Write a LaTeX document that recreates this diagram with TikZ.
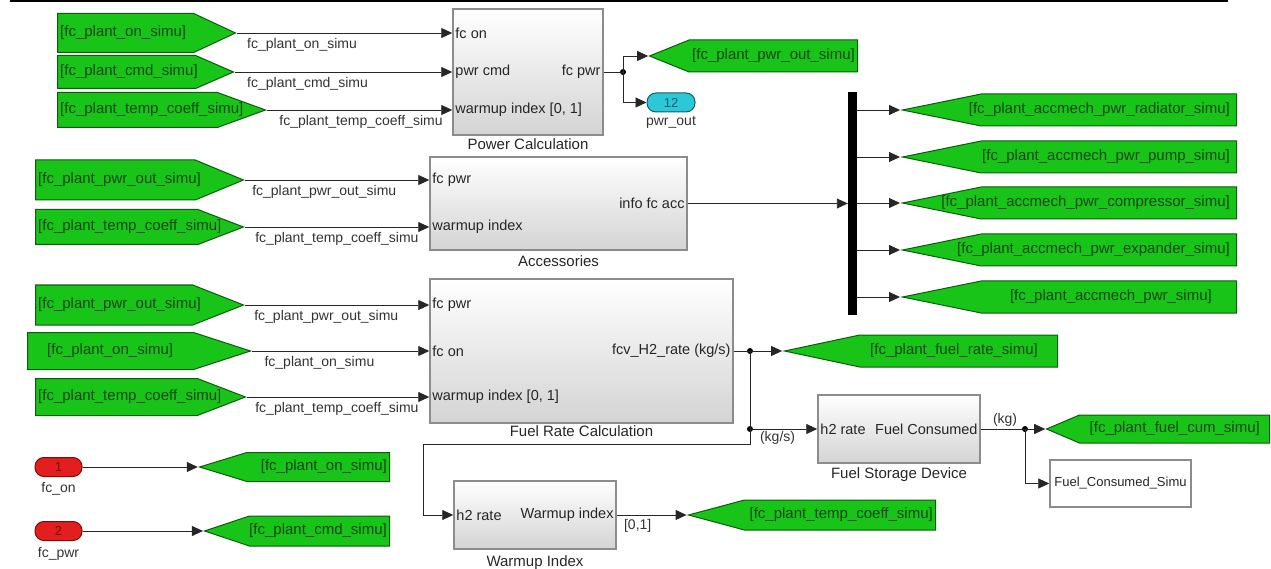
\documentclass[tikz,border=0pt]{standalone}
\usepackage{fontspec}
\setmainfont{Liberation Sans}
\usepackage{xcolor}
\usetikzlibrary{shapes.symbols, arrows.meta, positioning, shadows}

\definecolor{tagfill}{RGB}{24,196,24}
\definecolor{tagline}{RGB}{12,92,12}
\definecolor{tagtext}{RGB}{20,70,20}
\definecolor{infill}{RGB}{226,30,30}
\definecolor{inline}{RGB}{125,10,10}
\definecolor{outfill}{RGB}{45,200,215}
\definecolor{outline}{RGB}{10,95,110}

\tikzset{
  blk/.style={draw=black!45, line width=1.5pt, top color=white, bottom color=black!17,
    drop shadow={shadow xshift=1.2pt, shadow yshift=-1.2pt, fill=black!40}},
  dispblk/.style={draw=black!45, line width=1.5pt, fill=white,
    drop shadow={shadow xshift=1.2pt, shadow yshift=-1.2pt, fill=black!40}},
  fromtag/.style={signal, signal to=east, signal from=nowhere, draw=tagline, fill=tagfill,
    line width=1pt, inner sep=0pt, anchor=west},
  gototag/.style={signal, signal to=west, signal from=nowhere, draw=tagline, fill=tagfill,
    line width=1pt, inner sep=0pt, anchor=east},
  tagtxt/.style={font=\fontsize{15pt}{18pt}\selectfont, text=tagtext, inner sep=3pt},
  wire/.style={draw=black!85, line width=0.9pt},
  sig/.style={wire, -{Triangle[length=11pt, width=10pt]}},
  signame/.style={font=\fontsize{14pt}{16pt}\selectfont, text=black!80, inner sep=2pt},
  port/.style={font=\fontsize{14.5pt}{17pt}\selectfont, text=black!85, inner sep=3pt},
  title/.style={font=\fontsize{15pt}{18pt}\selectfont, text=black!85, inner sep=2pt},
  dot/.style={circle, fill=black, inner sep=0pt, minimum size=6pt},
  inport/.style={draw=inline, fill=infill, line width=1pt, rounded corners=9pt, minimum width=47,
    minimum height=19, inner sep=0pt, text=inline, font=\fontsize{13pt}{15pt}\selectfont},
  outport/.style={inport, draw=outline, fill=outfill, text=outline, minimum width=48},
}

\begin{document}
\begin{tikzpicture}[x=1pt, y=-1pt]
  \useasboundingbox (0,0) rectangle (1271,569);
  % Top rule
  \draw[line width=1.6pt] (10,1) -- (1228,1);

  % From tags (left)
  \node[fromtag, minimum width=178, minimum height=39, signal pointer angle=50,
    label={[tagtxt, anchor=west]west:{[fc\_plant\_on\_simu]}}] (f_on1) at (57,33) {};
  \node[fromtag, minimum width=176, minimum height=33, signal pointer angle=47,
    label={[tagtxt, anchor=west]west:{[fc\_plant\_cmd\_simu]}}] (f_cmd1) at (57,72) {};
  \node[fromtag, minimum width=208, minimum height=35, signal pointer angle=40,
    label={[tagtxt, anchor=west]west:{[fc\_plant\_temp\_coeff\_simu]}}] (f_tmp1) at (57,110) {};
  \node[fromtag, minimum width=208, minimum height=40, signal pointer angle=45,
    label={[tagtxt, anchor=west]west:{[fc\_plant\_pwr\_out\_simu]}}] (f_pwr2) at (35,180) {};
  \node[fromtag, minimum width=208, minimum height=35, signal pointer angle=42,
    label={[tagtxt, anchor=west]west:{[fc\_plant\_temp\_coeff\_simu]}}] (f_tmp2) at (35,227) {};
  \node[fromtag, minimum width=208, minimum height=40, signal pointer angle=43,
    label={[tagtxt, anchor=west]west:{[fc\_plant\_pwr\_out\_simu]}}] (f_pwr3) at (35,305) {};
  \node[fromtag, minimum width=223, minimum height=37, signal pointer angle=36,
    label={[tagtxt, anchor=west, xshift=17pt]west:{[fc\_plant\_on\_simu]}}] (f_on3) at (27,351) {};
  \node[fromtag, minimum width=210, minimum height=37, signal pointer angle=42,
    label={[tagtxt, anchor=west]west:{[fc\_plant\_temp\_coeff\_simu]}}] (f_tmp3) at (35,397) {};

  % Power Calculation
  \node[blk, minimum width=150, minimum height=126] (pc) at (528,72) {};
  \node[title, below=1pt of pc] (pc_t) {Power Calculation};
  \node[port, anchor=west] (pc_on) at (pc.west |- f_on1.east) {fc on};
  \node[port, anchor=west] (pc_cmd) at (pc.west |- f_cmd1.east) {pwr cmd};
  \node[port, anchor=west] (pc_wu) at (pc.west |- f_tmp1.east) {warmup index [0, 1]};
  \node[port, anchor=east] (pc_pwr) at (pc.east) {fc pwr};

  % Accessories
  \node[blk, minimum width=257, minimum height=93] (acc) at (558.5,203.5) {};
  \node[title, below=3pt of acc] (acc_t) {Accessories};
  \node[port, anchor=west] (acc_pwr) at (acc.west |- f_pwr2.east) {fc pwr};
  \node[port, anchor=west] (acc_wu) at (acc.west |- f_tmp2.east) {warmup index};
  \node[port, anchor=east] (acc_out) at (acc.east) {info fc acc};

  % Fuel Rate Calculation
  \node[blk, minimum width=303, minimum height=144] (frc) at (581.5,351) {};
  \node[title, below=0pt of frc] (frc_t) {Fuel Rate Calculation};
  \node[port, anchor=west] (frc_pwr) at (frc.west |- f_pwr3.east) {fc pwr};
  \node[port, anchor=west] (frc_on) at (frc.west |- f_on3.east) {fc on};
  \node[port, anchor=west] (frc_wu) at (frc.west |- f_tmp3.east) {warmup index [0, 1]};
  \node[port, anchor=east] (frc_out) at (frc.east) {fcv\_H2\_rate (kg/s)};

  % Fuel Storage Device
  \node[blk, minimum width=162, minimum height=68] (fsd) at (899,429) {};
  \node[title, below=2pt of fsd] (fsd_t) {Fuel Storage Device};
  \node[port, anchor=west] (fsd_in) at (fsd.west) {h2 rate};
  \node[port, anchor=east] (fsd_out) at (fsd.east) {Fuel Consumed};

  % Warmup Index
  \node[blk, minimum width=162, minimum height=68] (wi) at (535,515) {};
  \node[title, below=4pt of wi] (wi_t) {Warmup Index};
  \node[port, anchor=west] (wi_in) at (wi.west) {h2 rate};
  \node[port, anchor=east] (wi_out) at (wi.east) {Warmup index};

  % To workspace
  \node[dispblk, minimum width=141, minimum height=47, font=\fontsize{13pt}{15pt}\selectfont,
    text=black!85, inner sep=1pt] (fcs) at (1120.5,483.5) {Fuel\_Consumed\_Simu};

  % Bus
  \node[fill=black, minimum width=9, minimum height=223, inner sep=0pt] (bus) at (852.5,203.5) {};

  % Goto tags (right)
  \node[gototag, minimum width=208, minimum height=32, signal pointer angle=44,
    label={[tagtxt, anchor=east]east:{[fc\_plant\_pwr\_out\_simu]}}] (g_pwr) at (858,56) {};
  \node[gototag, minimum width=334, minimum height=32, signal pointer angle=23,
    label={[tagtxt, anchor=east, xshift=-4pt]east:{[fc\_plant\_accmech\_pwr\_radiator\_simu]}}] (g_rad) at (1237,110) {};
  \node[gototag, minimum width=334, minimum height=32, signal pointer angle=23,
    label={[tagtxt, anchor=east, xshift=-4pt]east:{[fc\_plant\_accmech\_pwr\_pump\_simu]}}] (g_pump) at (1237,157) {};
  \node[gototag, minimum width=334, minimum height=32, signal pointer angle=23,
    label={[tagtxt, anchor=east, xshift=-4pt]east:{[fc\_plant\_accmech\_pwr\_compressor\_simu]}}] (g_comp) at (1237,203) {};
  \node[gototag, minimum width=334, minimum height=32, signal pointer angle=23,
    label={[tagtxt, anchor=east, xshift=-4pt]east:{[fc\_plant\_accmech\_pwr\_expander\_simu]}}] (g_exp) at (1237,250) {};
  \node[gototag, minimum width=334, minimum height=32, signal pointer angle=23,
    label={[tagtxt, anchor=east, xshift=-22pt]east:{[fc\_plant\_accmech\_pwr\_simu]}}] (g_acc) at (1237,297) {};
  \node[gototag, minimum width=273, minimum height=32, signal pointer angle=24,
    label={[tagtxt, anchor=east, xshift=-17pt]east:{[fc\_plant\_fuel\_rate\_simu]}}] (g_rate) at (1058,351) {};
  \node[gototag, minimum width=223, minimum height=28, signal pointer angle=46,
    label={[tagtxt, anchor=east, xshift=-7pt]east:{[fc\_plant\_fuel\_cum\_simu]}}] (g_cum) at (1270,429) {};
  \node[gototag, minimum width=247, minimum height=30, signal pointer angle=30,
    label={[tagtxt, anchor=east]east:{[fc\_plant\_temp\_coeff\_simu]}}] (g_tmp) at (936,515) {};
  \node[gototag, minimum width=190, minimum height=29, signal pointer angle=34,
    label={[tagtxt, anchor=east]east:{[fc\_plant\_on\_simu]}}] (g_on) at (390,467) {};
  \node[gototag, minimum width=185, minimum height=30, signal pointer angle=37,
    label={[tagtxt, anchor=east]east:{[fc\_plant\_cmd\_simu]}}] (g_cmd) at (390,531) {};

  % Inports and outport
  \node[inport] (in1) at (58.5,467) {1};
  \node[signame, below=3pt of in1] (in1_l) {fc\_on};
  \node[inport] (in2) at (58.5,531) {2};
  \node[signame, below=4pt of in2] (in2_l) {fc\_pwr};
  \node[outport] (out12) at (671,102.5) {12};
  \node[signame, below=2pt of out12] (out12_l) {pwr\_out};

  % Junctions
  \node[dot] (j1) at (623,72) {};
  \node[dot] (j2) at (750,351) {};
  \node[dot] (j3) at (750,429) {};
  \node[dot] (j4) at (1025,429) {};
  \coordinate (wbend) at (423,444);

  % Arrows
  \draw[sig] (f_on1.east) -- node[signame, pos=0, anchor=north west, xshift=8pt, yshift=-3pt] {fc\_plant\_on\_simu} (f_on1.east -| pc.west);
  \draw[sig] (f_cmd1.east) -- node[signame, pos=0, anchor=north west, xshift=10pt, yshift=-3pt] {fc\_plant\_cmd\_simu} (f_cmd1.east -| pc.west);
  \draw[sig] (f_tmp1.east) -- node[signame, pos=0, anchor=north west, xshift=10pt, yshift=-3pt] {fc\_plant\_temp\_coeff\_simu} (f_tmp1.east -| pc.west);
  \draw[sig] (f_pwr2.east) -- node[signame, pos=0, anchor=north west, xshift=5pt, yshift=-3pt] {fc\_plant\_pwr\_out\_simu} (f_pwr2.east -| acc.west);
  \draw[sig] (f_tmp2.east) -- node[signame, pos=0, anchor=north west, xshift=8pt, yshift=-3pt] {fc\_plant\_temp\_coeff\_simu} (f_tmp2.east -| acc.west);
  \draw[sig] (f_pwr3.east) -- node[signame, pos=0, anchor=north west, xshift=7pt, yshift=-3pt] {fc\_plant\_pwr\_out\_simu} (f_pwr3.east -| frc.west);
  \draw[sig] (f_on3.east) -- node[signame, pos=0, anchor=north west, xshift=10pt, yshift=-3pt] {fc\_plant\_on\_simu} (f_on3.east -| frc.west);
  \draw[sig] (f_tmp3.east) -- node[signame, pos=0, anchor=north west, xshift=6pt, yshift=-3pt] {fc\_plant\_temp\_coeff\_simu} (f_tmp3.east -| frc.west);
  \draw[wire] (pc.east) -- (j1.center);
  \draw[sig] (j1.center) |- (g_pwr.west);
  \draw[sig] (j1.center) |- (out12.west);
  \draw[sig] (acc.east) -- (acc.east -| bus.west);
  \foreach \g in {g_rad, g_pump, g_comp, g_exp, g_acc}
    \draw[sig] (\g.west -| bus.east) -- (\g.west);
  \draw[wire] (frc.east) -- (j2.center);
  \draw[sig] (j2.center) -- (g_rate.west);
  \draw[wire] (j2.center) -- (j3.center);
  \draw[sig] (j3.center) -- node[signame, pos=0.41, below] {(kg/s)} (fsd.west);
  \draw[sig] (j3.center) |- (wbend) |- (wi.west);
  \draw[sig] (wi.east) -- node[signame, pos=0.3, below, yshift=-2pt] {[0,1]} (g_tmp.west);
  \draw[wire] (fsd.east) -- node[signame, pos=0.55, above] {(kg)} (j4.center);
  \draw[sig] (j4.center) -- (g_cum.west);
  \draw[sig] (j4.center) |- (fcs.west);
  \draw[sig] (in1.east) -- (g_on.west);
  \draw[sig] (in2.east) -- (g_cmd.west);
\end{tikzpicture}
\end{document}
